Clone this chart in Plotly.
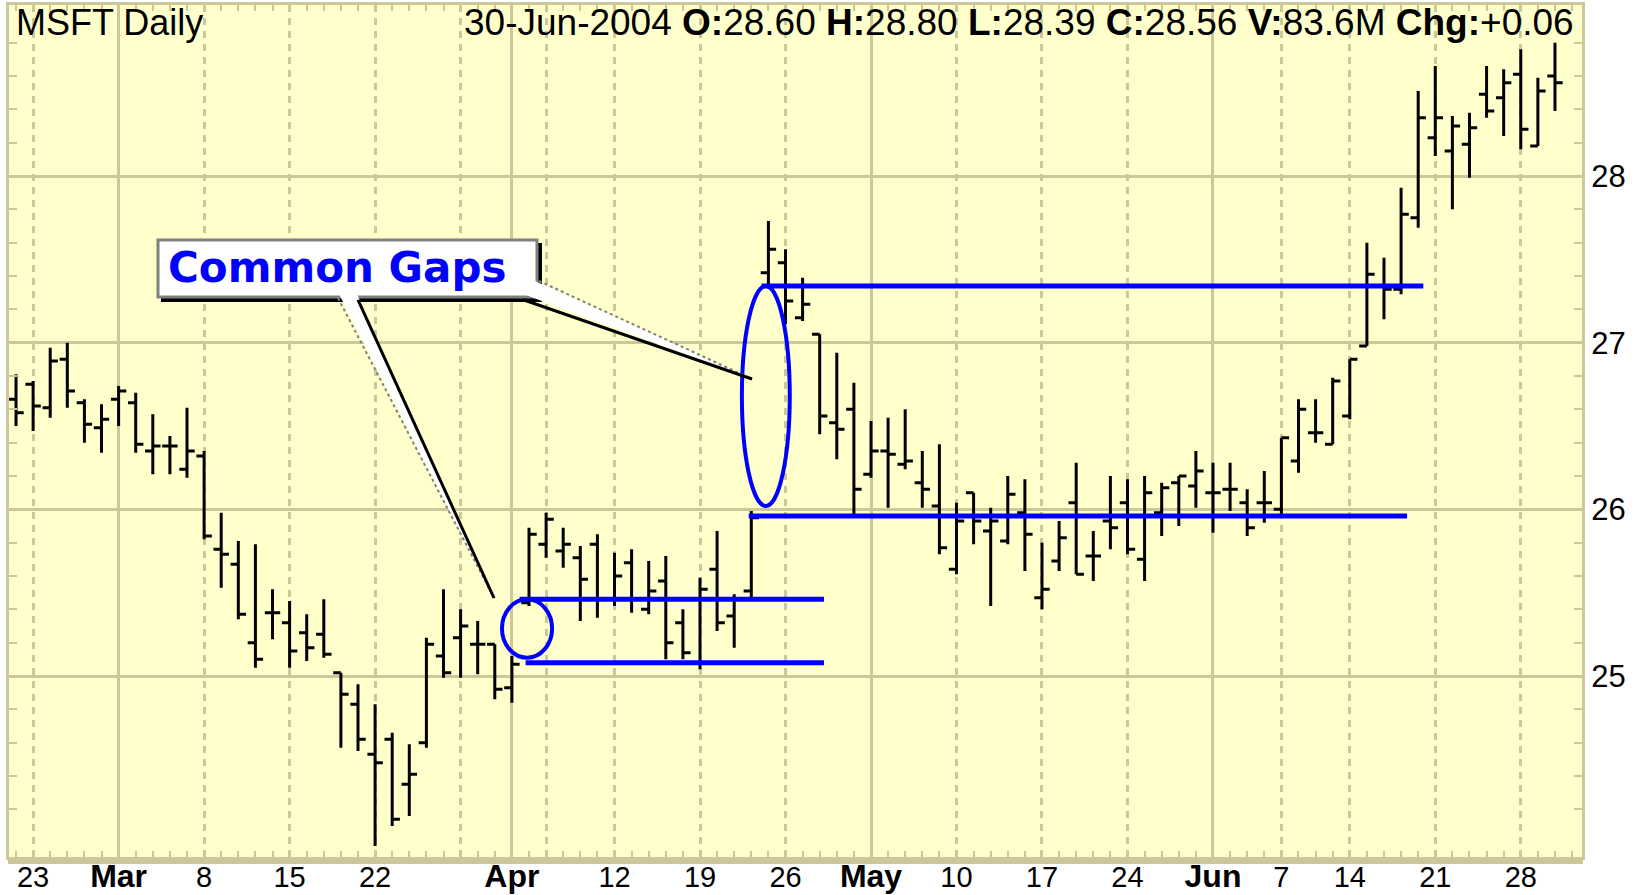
"""MSFT daily bar chart with the common gaps of April 2004 marked."""

import plotly.graph_objects as go

# trading days on the chart, one bar each
dates = [
    "2004-02-20", "2004-02-23", "2004-02-24", "2004-02-25", "2004-02-26", "2004-02-27",
    "2004-03-01", "2004-03-02", "2004-03-03", "2004-03-04", "2004-03-05",
    "2004-03-08", "2004-03-09", "2004-03-10", "2004-03-11", "2004-03-12",
    "2004-03-15", "2004-03-16", "2004-03-17", "2004-03-18", "2004-03-19",
    "2004-03-22", "2004-03-23", "2004-03-24", "2004-03-25", "2004-03-26",
    "2004-03-29", "2004-03-30", "2004-03-31",
    "2004-04-01", "2004-04-02", "2004-04-05", "2004-04-06", "2004-04-07", "2004-04-08",
    "2004-04-12", "2004-04-13", "2004-04-14", "2004-04-15", "2004-04-16",
    "2004-04-19", "2004-04-20", "2004-04-21", "2004-04-22", "2004-04-23",
    "2004-04-26", "2004-04-27", "2004-04-28", "2004-04-29", "2004-04-30",
    "2004-05-03", "2004-05-04", "2004-05-05", "2004-05-06", "2004-05-07",
    "2004-05-10", "2004-05-11", "2004-05-12", "2004-05-13", "2004-05-14",
    "2004-05-17", "2004-05-18", "2004-05-19", "2004-05-20", "2004-05-21",
    "2004-05-24", "2004-05-25", "2004-05-26", "2004-05-27", "2004-05-28",
    "2004-06-01", "2004-06-02", "2004-06-03", "2004-06-04",
    "2004-06-07", "2004-06-08", "2004-06-09", "2004-06-10",
    "2004-06-14", "2004-06-15", "2004-06-16", "2004-06-17", "2004-06-18",
    "2004-06-21", "2004-06-22", "2004-06-23", "2004-06-24", "2004-06-25",
    "2004-06-28", "2004-06-29", "2004-06-30",
]

opens = [
    26.66, 26.75, 26.61, 26.90, 26.64, 26.49,
    26.66, 26.64, 26.35, 26.38, 26.24,
    26.32, 25.76, 25.67, 25.20, 25.38,
    25.32, 25.26, 25.25, 25.02, 24.83,
    24.53, 24.62, 24.35, 24.60, 25.12,
    25.23, 25.19, 25.19,
    24.93, 25.44, 25.79, 25.75, 25.71, 25.79,
    25.46, 25.68, 25.40, 25.57, 25.32,
    25.08, 25.64, 25.36, 25.51, 27.42,
    27.48, 27.15, 27.05, 26.52, 26.60,
    26.21, 26.35, 26.27, 26.16, 26.02,
    25.64, 26.10, 25.87, 25.81, 25.98,
    25.47, 25.69, 26.04, 25.72, 25.93,
    26.04, 25.70, 25.98, 26.16, 26.14,
    26.10, 26.12, 26.04, 26.04,
    26.00, 26.29, 26.46, 26.39,
    26.56, 26.98, 27.34, 27.32, 27.75,
    28.23, 28.15, 28.19, 28.49, 28.47,
    28.61, 28.18, 28.60,
]

highs = [
    26.81, 26.77, 26.97, 27.00, 26.66, 26.63,
    26.74, 26.70, 26.57, 26.44, 26.61,
    26.35, 25.98, 25.81, 25.79, 25.52,
    25.45, 25.37, 25.46, 25.02, 24.95,
    24.83, 24.66, 24.59, 25.23, 25.52,
    25.40, 25.33, 25.19,
    25.12, 25.89, 25.98, 25.89, 25.78, 25.85,
    25.74, 25.76, 25.69, 25.72, 25.40,
    25.59, 25.87, 25.49, 25.99, 27.73,
    27.56, 27.39, 27.05, 26.94, 26.76,
    26.53, 26.55, 26.60, 26.35, 26.39,
    26.04, 26.10, 26.01, 26.20, 26.18,
    25.80, 25.93, 26.28, 25.87, 26.20,
    26.18, 26.20, 26.16, 26.20, 26.35,
    26.28, 26.28, 26.12, 26.23,
    26.43, 26.66, 26.66, 26.79,
    26.90, 27.60, 27.51, 27.93, 28.51,
    28.66, 28.36, 28.38, 28.66, 28.64,
    28.76, 28.59, 28.80,
]

lows = [
    26.50, 26.47, 26.55, 26.61, 26.40, 26.34,
    26.50, 26.34, 26.21, 26.21, 26.19,
    25.82, 25.53, 25.34, 25.05, 25.22,
    25.05, 25.09, 25.11, 24.57, 24.55,
    23.98, 24.10, 24.16, 24.57, 24.99,
    24.99, 25.01, 24.86,
    24.84, 25.42, 25.71, 25.65, 25.33, 25.35,
    25.42, 25.38, 25.37, 25.10, 25.10,
    25.04, 25.27, 25.17, 25.47, 27.33,
    27.11, 27.13, 26.45, 26.30, 25.97,
    26.19, 26.01, 26.24, 26.01, 25.73,
    25.61, 25.79, 25.42, 25.79, 25.63,
    25.40, 25.63, 25.61, 25.57, 25.76,
    25.73, 25.57, 25.84, 25.90, 26.01,
    25.86, 25.99, 25.84, 25.92,
    25.97, 26.22, 26.40, 26.39,
    26.54, 26.98, 27.14, 27.29, 27.69,
    28.12, 27.80, 27.99, 28.35, 28.24,
    28.16, 28.18, 28.39,
]

closes = [
    26.58, 26.62, 26.89, 26.71, 26.51, 26.54,
    26.71, 26.39, 26.38, 26.38, 26.35,
    25.84, 25.73, 25.37, 25.10, 25.38,
    25.15, 25.17, 25.13, 24.89, 24.62,
    24.48, 24.14, 24.41, 25.19, 25.02,
    25.30, 25.19, 24.92,
    25.07, 25.85, 25.94, 25.79, 25.58, 25.46,
    25.60, 25.46, 25.51, 25.20, 25.14,
    25.52, 25.32, 25.46, 25.95, 27.56,
    27.25, 27.23, 26.56, 26.48, 26.12,
    26.35, 26.33, 26.29, 26.12, 25.77,
    25.93, 25.93, 25.93, 26.09, 25.85,
    25.52, 25.83, 25.61, 25.72, 25.89,
    25.76, 26.10, 26.13, 26.20, 26.23,
    26.10, 26.12, 25.89, 26.04,
    26.43, 26.60, 26.46, 26.77,
    26.90, 27.41, 27.32, 27.77, 28.35,
    28.35, 28.30, 28.29, 28.39, 28.56,
    28.28, 28.51, 28.56,
]

last_volume = "83.6M"
last_change = "+0.06"

# x axis labels (Mondays / first trading day of month)
label_dates = [
    "2004-02-23", "2004-03-01", "2004-03-08", "2004-03-15", "2004-03-22",
    "2004-04-01", "2004-04-12", "2004-04-19", "2004-04-26",
    "2004-05-03", "2004-05-10", "2004-05-17", "2004-05-24",
    "2004-06-01", "2004-06-07", "2004-06-14", "2004-06-21", "2004-06-28",
]
label_text = [
    "23", "Mar", "8", "15", "22", "Apr", "12", "19", "26",
    "May", "10", "17", "24", "Jun", "7", "14", "21", "28",
]
month_dates = ["2004-03-01", "2004-04-01", "2004-05-03", "2004-06-01"]
week_dates = [
    "2004-02-23", "2004-03-08", "2004-03-15", "2004-03-22", "2004-03-29",
    "2004-04-05", "2004-04-12", "2004-04-19", "2004-04-26",
    "2004-05-10", "2004-05-17", "2004-05-24",
    "2004-06-07", "2004-06-14", "2004-06-21", "2004-06-28",
]
price_ticks = [25, 26, 27, 28]

# gap markers drawn by the analyst (x in trading-day units, y in dollars)
gap_line_y = [25.46, 25.08, 27.34, 25.96]
gap_line_x0 = [29.45, 29.8, 43.6, 42.85]
gap_line_x1 = [47.25, 47.25, 82.3, 81.35]
small_circle = (28.42, 31.35, 25.11, 25.46)
big_ellipse = (42.45, 45.25, 26.02, 27.34)

YELLOW = "#FFFFCC"
TAN = "#CCC899"
BLUE = "#0000FF"
FONT = "Liberation Sans, Arial, sans-serif"

# plot area in pixels
L, R, T, B = 9, 1582, 5, 857
W_PX, H_PX = R - L, B - T
X_RANGE = [-0.41, 91.58]
Y_RANGE = [23.914, 29.026]


def paper(px, py):
    return (px - L) / W_PX, (B - py) / H_PX


def path(points, close=False):
    parts = []
    for i, (px, py) in enumerate(points):
        x, y = paper(px, py)
        parts.append(("M" if i == 0 else "L") + f"{x:.5f},{y:.5f}")
    return " ".join(parts) + (" Z" if close else "")


pos = {d: i for i, d in enumerate(dates)}
x = list(range(len(dates)))

fig = go.Figure()
fig.add_trace(go.Ohlc(
    x=x, open=opens, high=highs, low=lows, close=closes,
    increasing=dict(line=dict(color="black", width=3)),
    decreasing=dict(line=dict(color="black", width=3)),
    tickwidth=0.45, showlegend=False, hoverinfo="skip",
))
# invisible traces so the grid-only overlay axes get drawn
for ax in ["x2", "x3"]:
    fig.add_trace(go.Scatter(x=x, y=closes, xaxis=ax, mode="lines",
                             line=dict(width=0), opacity=0,
                             showlegend=False, hoverinfo="skip"))

ticktext = [f"<span style='font-size:32px'><b>{t}</b></span>" if t.isalpha() else t
            for t in label_text]

minor_y = [round(v / 5, 1) for v in range(121, 145) if v % 5]

fig.update_layout(
    width=1636, height=895,
    margin=dict(l=L, r=1636 - R, t=T, b=895 - B),
    paper_bgcolor="white", plot_bgcolor=YELLOW,
    font=dict(family=FONT, color="black"),
    xaxis=dict(
        range=X_RANGE, rangeslider=dict(visible=False), automargin=False,
        tickmode="array", tickvals=[pos[d] for d in label_dates], ticktext=ticktext,
        tickfont=dict(size=29, family=FONT, color="black"),
        ticks="inside", ticklen=6, tickwidth=2, tickcolor=TAN,
        minor=dict(dtick=1, tick0=0, ticks="inside", ticklen=6, tickwidth=2,
                   tickcolor=TAN, showgrid=False),
        ticklabelstandoff=-8,
        showgrid=False, zeroline=False,
        showline=True, linecolor=TAN, linewidth=3, mirror="allticks",
    ),
    xaxis2=dict(
        range=X_RANGE, overlaying="x", tickmode="array", automargin=False,
        tickvals=[pos[d] for d in month_dates],
        showgrid=True, gridcolor=TAN, gridwidth=3,
        showticklabels=False, ticks="", zeroline=False, showline=False,
    ),
    xaxis3=dict(
        range=X_RANGE, overlaying="x", tickmode="array", automargin=False,
        tickvals=[pos[d] for d in week_dates],
        showgrid=True, gridcolor=TAN, gridwidth=3, griddash="7px,6px",
        showticklabels=False, ticks="", zeroline=False, showline=False,
    ),
    yaxis=dict(
        range=Y_RANGE, side="right", automargin=False,
        tickmode="array", tickvals=price_ticks,
        tickfont=dict(size=31, family=FONT, color="black"),
        ticks="inside", ticklen=8, tickwidth=2, tickcolor=TAN,
        minor=dict(tickmode="array", tickvals=minor_y, ticks="inside", ticklen=8,
                   tickwidth=2, tickcolor=TAN, showgrid=False),
        ticklabelstandoff=0,
        showgrid=True, gridcolor=TAN, gridwidth=3, zeroline=False,
        showline=True, linecolor=TAN, linewidth=3, mirror="allticks",
    ),
)

shapes = []
# thick band under the plot
bx0, by0 = paper(L - 1, B)
bx1, by1 = paper(R + 1, B + 7)
shapes.append(dict(type="rect", xref="paper", yref="paper", x0=bx0, x1=bx1,
                   y0=by1, y1=by0, fillcolor=TAN, line=dict(width=0), layer="above"))

# blue gap lines, circle and ellipse
for yv, xa, xb in zip(gap_line_y, gap_line_x0, gap_line_x1):
    shapes.append(dict(type="line", xref="x", yref="y", x0=xa, x1=xb, y0=yv, y1=yv,
                       line=dict(color=BLUE, width=5)))
for cx0, cx1, cy0, cy1 in [small_circle, big_ellipse]:
    shapes.append(dict(type="circle", xref="x", yref="y", x0=cx0, x1=cx1,
                       y0=cy0, y1=cy1, line=dict(color=BLUE, width=4)))

# callout box with its two pointers
sx0, sy0 = paper(161, 243)
sx1, sy1 = paper(542, 302)
shapes.append(dict(type="rect", xref="paper", yref="paper", x0=sx0, x1=sx1,
                   y0=sy1, y1=sy0, fillcolor="black", line=dict(width=0)))
wx0, wy0 = paper(158, 240)
wx1, wy1 = paper(537, 297)
shapes.append(dict(type="rect", xref="paper", yref="paper", x0=wx0, x1=wx1,
                   y0=wy1, y1=wy0, fillcolor="white", line=dict(color="#808080", width=3)))
tip1 = (494, 598)
tip2 = (752, 379)
shapes.append(dict(type="path", xref="paper", yref="paper",
                   path=path([(339, 294), (357, 294), tip1], close=True),
                   fillcolor="white", line=dict(width=0)))
shapes.append(dict(type="path", xref="paper", yref="paper",
                   path=path([(535, 281), tip2, (523, 294), (535, 294)], close=True),
                   fillcolor="white", line=dict(width=0)))
for pts, color, width, dash in [
    ([(338, 298), tip1], "#808080", 2, "dot"),
    ([(358, 300), tip1], "black", 3, "solid"),
    ([(539, 281), tip2], "#808080", 2, "dot"),
    ([(524, 300), tip2], "black", 3, "solid"),
]:
    shapes.append(dict(type="path", xref="paper", yref="paper", path=path(pts),
                       line=dict(color=color, width=width, dash=dash)))
fig.update_layout(shapes=shapes)

hx, hy = paper(14, 22)
fig.add_annotation(xref="paper", yref="paper", x=hx, y=hy, xanchor="left",
                   yanchor="middle", showarrow=False, text="MSFT Daily",
                   font=dict(size=36, family=FONT, color="black"))
header = (f"30-Jun-2004 <b>O:</b>{opens[-1]:.2f} <b>H:</b>{highs[-1]:.2f} "
          f"<b>L:</b>{lows[-1]:.2f} <b>C:</b>{closes[-1]:.2f} "
          f"<b>V:</b>{last_volume} <b>Chg:</b>{last_change}")
hx2, _ = paper(1576, 22)
fig.add_annotation(xref="paper", yref="paper", x=hx2, y=hy, xanchor="right",
                   yanchor="middle", showarrow=False, text=header,
                   font=dict(size=37, family=FONT, color="black"))
cx, cy = paper(166, 268)
fig.add_annotation(xref="paper", yref="paper", x=cx, y=cy, xanchor="left",
                   yanchor="middle", showarrow=False, text="<b>Common Gaps</b>",
                   font=dict(size=42, family="DejaVu Sans", color=BLUE))

# the page's default body margin would push the fixed-size figure off screen
fig.write_html("out.html", config={"displayModeBar": False},
               post_script="document.body.style.margin='0px';")
